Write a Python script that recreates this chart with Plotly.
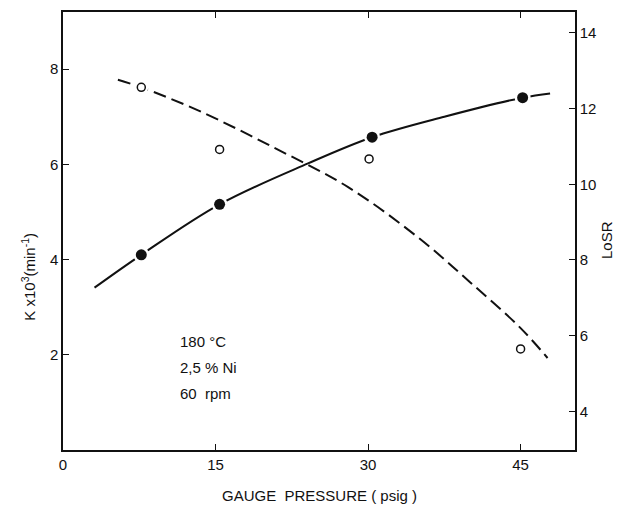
import plotly.graph_objects as go

# --- data ---
k_x = [7.7, 15.4, 30.4, 45.2]          # filled circles (K x10^3, left axis)
k_y = [4.10, 5.16, 6.57, 7.40]
losr_x = [7.7, 15.4, 30.1, 45.0]       # open circles (LoSR, right axis)
losr_y = [12.56, 10.92, 10.67, 5.65]

k_curve_x = [3.1, 7.7, 15.4, 24.1, 30.4, 37.5, 45.2, 47.9]
k_curve_y = [3.41, 4.10, 5.16, 6.02, 6.57, 7.00, 7.40, 7.49]

losr_curve_x = [5.4, 7.7, 13.45, 20.8, 28.0, 34.9, 40.0, 45.0, 47.65]
losr_curve_y = [12.76, 12.56, 11.93, 10.96, 9.93, 8.60, 7.42, 6.2, 5.41]

x_ticks = [0, 15, 30, 45]
left_ticks = [2, 4, 6, 8]
right_ticks = [4, 6, 8, 10, 12, 14]
notes = ["180 °C", "2,5 % Ni", "60  rpm"]

FONT = "Liberation Sans"
INK = "#111111"

fig = go.Figure()

# curves
fig.add_trace(go.Scatter(x=k_curve_x, y=k_curve_y, mode="lines",
                         line=dict(color=INK, width=2, shape="spline", smoothing=1.0),
                         yaxis="y", hoverinfo="skip", showlegend=False))
fig.add_trace(go.Scatter(x=losr_curve_x, y=losr_curve_y, mode="lines",
                         line=dict(color=INK, width=2, dash="13px,6px", shape="spline", smoothing=1.0),
                         yaxis="y2", hoverinfo="skip", showlegend=False))

# white halos (gaps in the lines around markers)
fig.add_trace(go.Scatter(x=k_x, y=k_y, mode="markers",
                         marker=dict(size=16, color="white"), yaxis="y",
                         hoverinfo="skip", showlegend=False))
fig.add_trace(go.Scatter(x=k_x, y=k_y, mode="markers",
                         marker=dict(size=11, color=INK), yaxis="y", showlegend=False))

fig.add_trace(go.Scatter(x=losr_x, y=losr_y, mode="markers",
                         marker=dict(size=14, color="white"), yaxis="y2",
                         hoverinfo="skip", showlegend=False))
fig.add_trace(go.Scatter(x=losr_x, y=losr_y, mode="markers",
                         marker=dict(size=8, color="white", line=dict(color=INK, width=1.5)),
                         yaxis="y2", showlegend=False))

axis_common = dict(showgrid=False, zeroline=False, showline=True, linecolor=INK,
                   linewidth=1.5, ticks="inside", ticklen=6, tickwidth=1.2, tickcolor=INK,
                   tickfont=dict(family=FONT, size=15, color=INK))

fig.update_layout(
    width=625, height=513,
    margin=dict(l=63, r=50, t=10, b=63),
    paper_bgcolor="white", plot_bgcolor="white",
    xaxis=dict(range=[0, 50.35], tickvals=x_ticks, mirror="ticks", **axis_common),
    yaxis=dict(range=[0, 9.2], tickvals=left_ticks, **axis_common),
    yaxis2=dict(range=[2.98, 14.55], tickvals=right_ticks, overlaying="y", side="right",
                **axis_common),
    font=dict(family=FONT, color=INK),
)

annotations = [
    dict(text="GAUGE  PRESSURE ( psig )", x=0.5, y=-0.105, xref="paper", yref="paper",
         xanchor="center", yanchor="middle", showarrow=False,
         font=dict(family=FONT, size=15, color=INK)),
    dict(text="K x10<sup>3</sup>(min<sup>-1</sup>)", x=-0.067, y=0.395, xref="paper", yref="paper",
         xanchor="center", yanchor="middle", showarrow=False, textangle=-90,
         font=dict(family=FONT, size=15, color=INK)),
    dict(text="LoSR", x=1.063, y=0.48, xref="paper", yref="paper",
         xanchor="center", yanchor="middle", showarrow=False, textangle=-90,
         font=dict(family=FONT, size=15, color=INK)),
]
for i, t in enumerate(notes):
    annotations.append(dict(text=t, x=0.225, y=0.248 - i * 0.06, xref="paper", yref="paper",
                            xanchor="left", yanchor="middle", showarrow=False,
                            font=dict(family=FONT, size=15, color=INK)))
fig.update_layout(annotations=annotations)

fig.write_html("out.html")
